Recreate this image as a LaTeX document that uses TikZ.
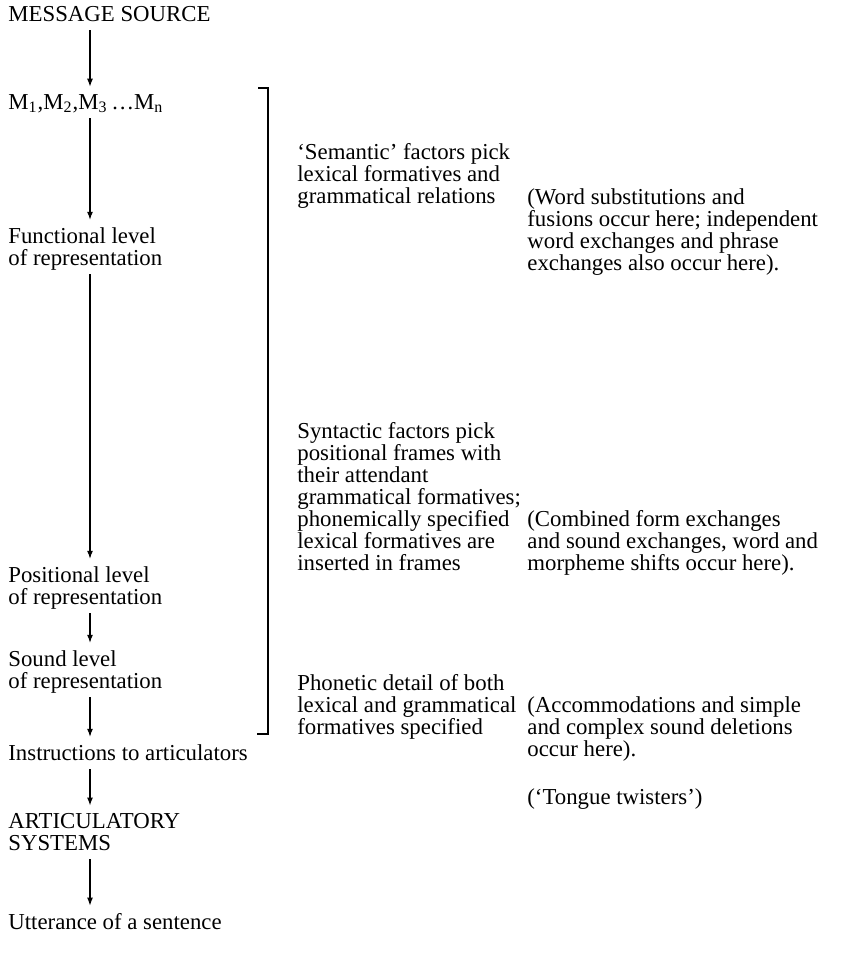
\documentclass[tikz,border=0pt]{standalone}
\usepackage{fontspec}
\setmainfont{Liberation Serif}
\usetikzlibrary{arrows.meta}

\tikzset{
  lvl/.style={anchor=base west, inner sep=0pt, text depth=2.5pt, align=left, font=\fontsize{11.4}{11}\selectfont},
  note/.style={lvl},
  flow/.style={-{Latex[length=4pt,width=3pt]}, line width=0.55pt, shorten <=2pt, shorten >=3.5pt}
}

\begin{document}
\begin{tikzpicture}[x=0.5pt, y=-0.5pt]
		\useasboundingbox (0, 0) rectangle (844, 954);
		\coordinate (axis) at (90, 0);
		
		% left column: levels of the model (base = last line)
		\node[lvl] (source) at (8, 21) {MESSAGE SOURCE};
		\node[lvl] (msgs) at (8, 109) {M\textsubscript{1},M\textsubscript{2},M\textsubscript{3}\,\dots M\textsubscript{n}};
		\node[lvl] (functional) at (8, 265) {Functional level\\of representation};
		\node[lvl] (positional) at (8, 604) {Positional level\\of representation};
		\node[lvl] (sound) at (8, 688) {Sound level\\of representation};
		\node[lvl] (instr) at (8, 760) {Instructions to articulators};
		\node[lvl] (artic) at (8, 850) {ARTICULATORY\\SYSTEMS};
		\node[lvl] (utter) at (8, 929) {Utterance of a sentence};
		
		% arrows down the left column
		\draw[flow] (source.south -| axis) -- (msgs.north -| axis);
		\draw[flow] (msgs.south -| axis) -- (functional.north -| axis);
		\draw[flow] (functional.south -| axis) -- (positional.north -| axis);
		\draw[flow] (positional.south -| axis) -- (sound.north -| axis);
		\draw[flow] (sound.south -| axis) -- (instr.north -| axis);
		\draw[flow] (instr.south -| axis) -- (artic.north -| axis);
		\draw[flow] (artic.south -| axis) -- (utter.north -| axis);
		
		% bracket
		\draw[line width=0.55pt] (258, 88) -- (268, 88) -- (268, 734) -- (257, 734);
		
		% middle column
		\node[note] (semantic) at (297, 203) {`Semantic' factors pick\\lexical formatives and\\grammatical relations};
		\node[note] (syntactic) at (297, 570) {Syntactic factors pick\\positional frames with\\their attendant\\grammatical formatives;\\phonemically specified\\lexical formatives are\\inserted in frames};
		\node[note] (phonetic) at (297, 734) {Phonetic detail of both\\lexical and grammatical\\formatives specified};
		
		% right column: the errors
		\node[note] (wordsub) at (527, 270) {(Word substitutions and\\fusions occur here; independent\\word exchanges and phrase\\exchanges also occur here).};
		\node[note] (combined) at (527, 570) {(Combined form exchanges\\and sound exchanges, word and\\morpheme shifts occur here).};
		\node[note] (accomm) at (527, 756) {(Accommodations and simple\\and complex sound deletions\\occur here).};
		\node[note] (twisters) at (527, 804) {(`Tongue twisters')};
	\end{tikzpicture}
\end{document}
